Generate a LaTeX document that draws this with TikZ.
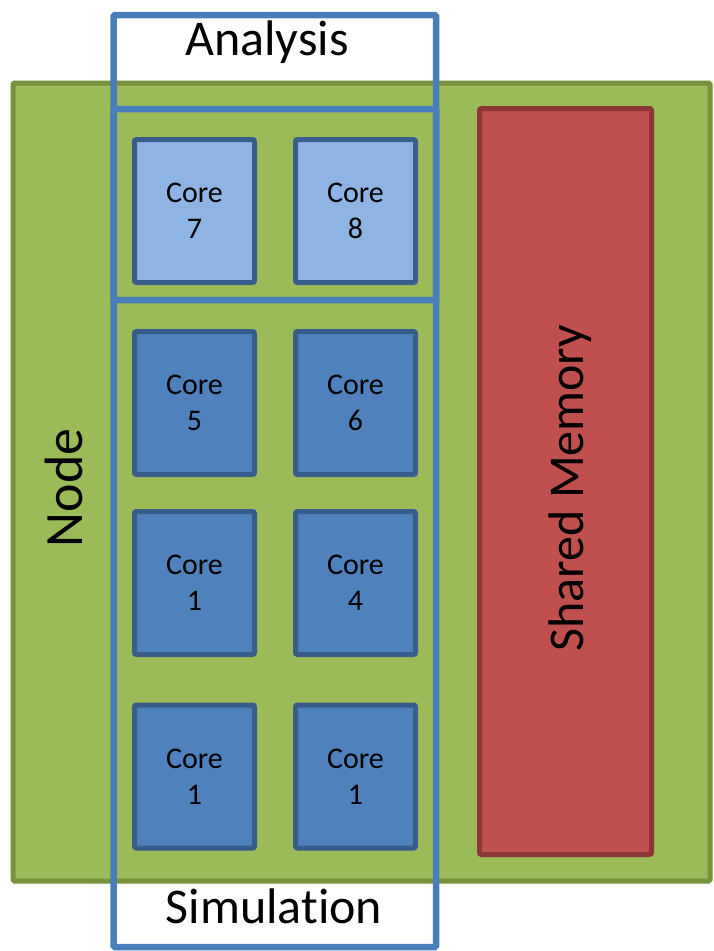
\documentclass[tikz,border=0pt]{standalone}
\usepackage{fontspec}
\setmainfont[Ligatures=NoCommon]{Carlito}
\usepackage{tikz}
\usetikzlibrary{positioning}

\definecolor{nodegreen}{HTML}{9BBB59}
\definecolor{nodeedge}{HTML}{76923C}
\definecolor{memred}{HTML}{C0504D}
\definecolor{memedge}{HTML}{8C3836}
\definecolor{coreblue}{HTML}{4F81BD}
\definecolor{corelight}{HTML}{8EB4E3}
\definecolor{coreedge}{HTML}{385D8A}
\definecolor{groupblue}{HTML}{4A7EBB}

\begin{document}
\begin{tikzpicture}[x=1pt, y=-1pt,
        core/.style={rectangle, draw=coreedge, fill=coreblue, line width=5pt, rounded corners=2pt, minimum width=120, minimum height=143, inner sep=0pt, align=center, font=\fontsize{30}{36}\selectfont},
        corehi/.style={core, fill=corelight},
        group/.style={draw=groupblue, line width=6.5pt, rounded corners=1.5pt},
        big/.style={font=\fontsize{50}{60}\selectfont, inner sep=0pt}
    ]
        \useasboundingbox (0,0) rectangle (713,951);

        % Rechenknoten
        \draw[fill=nodegreen, draw=nodeedge, line width=5pt, rounded corners=1.5pt] (13,83) rectangle (710,881);
        \node[big, font=\fontsize{54}{64}\selectfont, rotate=90, anchor=base] (nodelabel) at (82,488) {Node};

        % Gemeinsamer Speicher
        \draw[fill=memred, draw=memedge, line width=5pt, rounded corners=2pt] (479.5,108.5) rectangle (651.5,854.5);
        \node[big, rotate=90, anchor=base] (memlabel) at (583,488) {Shared Memory};

        % Kerne
        \node[corehi] (core7) at (194.5,211) {Core\\7};
        \node[corehi, right=36pt of core7] (core8) {Core\\8};
        \node[core] (core5) at (194.5,403) {Core\\5};
        \node[core, right=36pt of core5] (core6) {Core\\6};
        \node[core] (core1a) at (194.5,583) {Core\\1};
        \node[core, right=36pt of core1a] (core4) {Core\\4};
        \node[core] (core1b) at (194.5,776.5) {Core\\1};
        \node[core, right=36pt of core1b] (core1c) {Core\\1};

        % Gruppen
        \draw[group] (113.5,15) rectangle (436,300);
        \draw[group] (113.5,109) rectangle (436,947);
        \node[big, anchor=base] (analysis) at (267,55) {Analysis};
        \node[big, anchor=base] (simulation) at (274,923) {Simulation};

    \end{tikzpicture}
\end{document}
